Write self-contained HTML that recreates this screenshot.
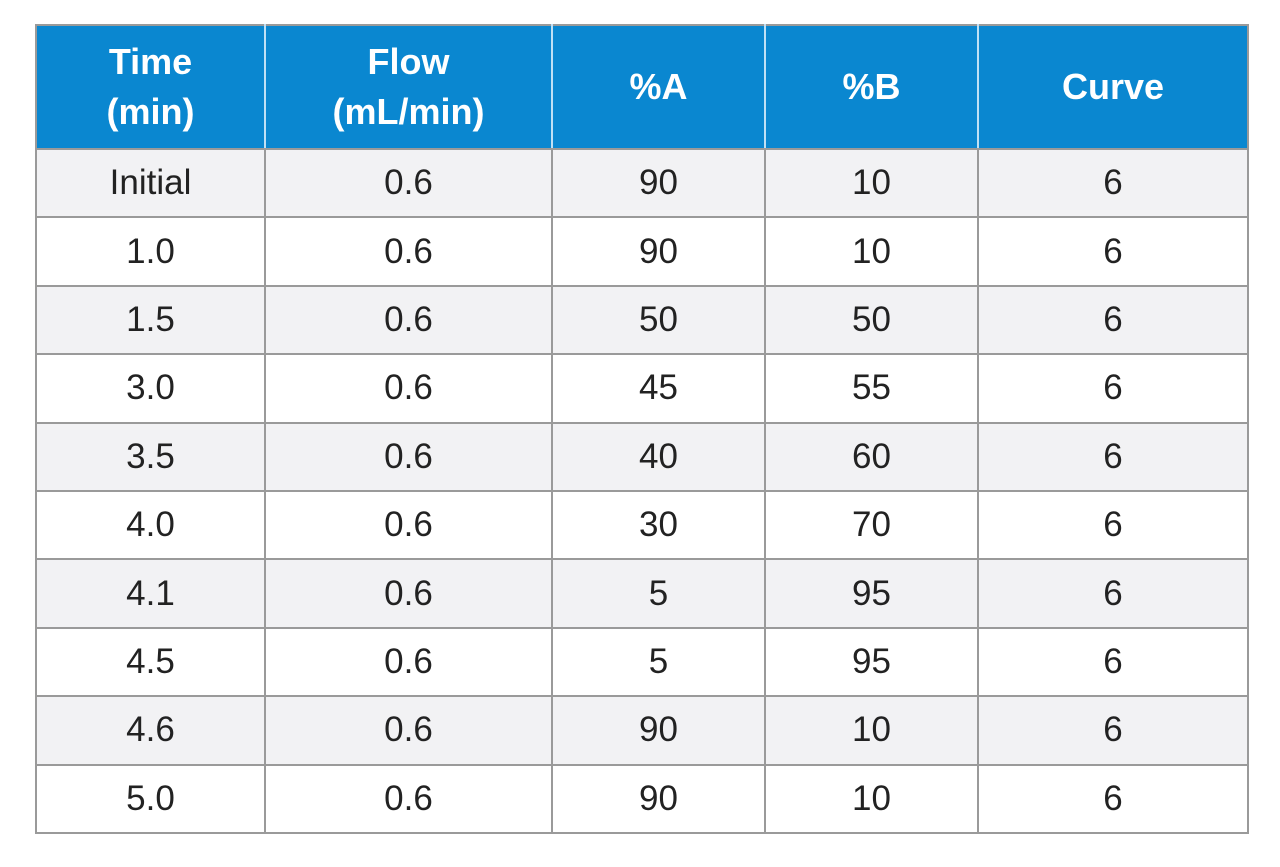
<!DOCTYPE html>
<html><head><meta charset="utf-8">
<style>
html,body{margin:0;padding:0;background:#fff;width:1280px;height:867px;overflow:hidden}
table{position:absolute;left:35px;top:24px;width:1212px;border-collapse:collapse;table-layout:fixed;
font-family:"Liberation Sans",Arial,sans-serif;}
td,th{border:2px solid #9a9a9a;text-align:center;padding:0;}
th{background:#0a87d0;color:#fff;font-weight:bold;font-size:36px;line-height:50px;height:122px;border-color:#9a9a9a;border-left-color:#bfe0f5;border-right-color:#bfe0f5}
th:first-child{border-left-color:#9a9a9a}
th:last-child{border-right-color:#9a9a9a}
td{font-size:35px;color:#222;height:66.4px}
tbody tr:nth-child(odd) td{background:#f2f2f4}
tbody tr:nth-child(even) td{background:#fff}
</style></head>
<body>
<table>
<colgroup><col style="width:229px"><col style="width:287px"><col style="width:213px"><col style="width:213px"><col style="width:270px"></colgroup>
<thead><tr>
<th>Time<br>(min)</th>
<th>Flow<br>(mL/min)</th>
<th>%A</th>
<th>%B</th>
<th>Curve</th>
</tr></thead>
<tbody>
<tr><td>Initial</td><td>0.6</td><td>90</td><td>10</td><td>6</td></tr>
<tr><td>1.0</td><td>0.6</td><td>90</td><td>10</td><td>6</td></tr>
<tr><td>1.5</td><td>0.6</td><td>50</td><td>50</td><td>6</td></tr>
<tr><td>3.0</td><td>0.6</td><td>45</td><td>55</td><td>6</td></tr>
<tr><td>3.5</td><td>0.6</td><td>40</td><td>60</td><td>6</td></tr>
<tr><td>4.0</td><td>0.6</td><td>30</td><td>70</td><td>6</td></tr>
<tr><td>4.1</td><td>0.6</td><td>5</td><td>95</td><td>6</td></tr>
<tr><td>4.5</td><td>0.6</td><td>5</td><td>95</td><td>6</td></tr>
<tr><td>4.6</td><td>0.6</td><td>90</td><td>10</td><td>6</td></tr>
<tr><td>5.0</td><td>0.6</td><td>90</td><td>10</td><td>6</td></tr>
</tbody>
</table>
</body></html>
